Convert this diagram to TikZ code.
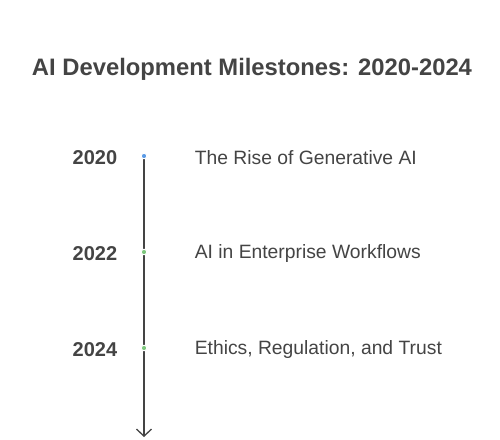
\documentclass[tikz,border=0pt]{standalone}
\usepackage{fontspec}
\setmainfont{Liberation Sans}
\usetikzlibrary{positioning,arrows.meta}

\definecolor{inkgray}{HTML}{444444}
\definecolor{dotblue}{HTML}{5B9BE6}
\definecolor{dotgreen}{HTML}{7CC77C}

\tikzset{
	title/.style={font=\bfseries\fontsize{23.8}{28}\selectfont, text=inkgray},
	year/.style={font=\bfseries\fontsize{20}{24}\selectfont, text=inkgray, anchor=east, yshift=-1.5pt},
	event/.style={font=\fontsize{19.3}{23}\selectfont, text=inkgray, anchor=west, yshift=-1.5pt},
	milestone/.style={circle, inner sep=0pt, minimum size=5.5pt, fill=#1, draw=white, line width=1pt},
	axis/.style={draw=inkgray, line width=1.4pt, -{Straight Barb[length=7pt,width=15pt,line width=1.3pt]}}
}

\begin{document}
\begin{tikzpicture}[x=1pt, y=1pt]
	\useasboundingbox[fill=white] (0,0) rectangle (500,-439);
	
	%% title
	\node[title](title) at (252,-69){AI Development Milestones: 2020-2024};
	
	%% time axis
	\coordinate (axis_top) at (144,-156);
	\coordinate (axis_end) at (144,-437);
	\draw[axis] (axis_top) -- (axis_end);
	
	%% milestones
	\node[milestone=dotblue](dot_2020) at (144,-156){};
	\node[milestone=dotgreen](dot_2022) at (144,-252){};
	\node[milestone=dotgreen](dot_2024) at (144,-348){};
	
	\node[year, left=20 of dot_2020](year_2020){2020};
	\node[year, left=20 of dot_2022](year_2022){2022};
	\node[year, left=20 of dot_2024](year_2024){2024};
	
	\node[event, right=44 of dot_2020](event_2020){The Rise of Generative AI};
	\node[event, right=44 of dot_2022](event_2022){AI in Enterprise Workflows};
	\node[event, right=44 of dot_2024](event_2024){Ethics, Regulation, and Trust};
\end{tikzpicture}
\end{document}
